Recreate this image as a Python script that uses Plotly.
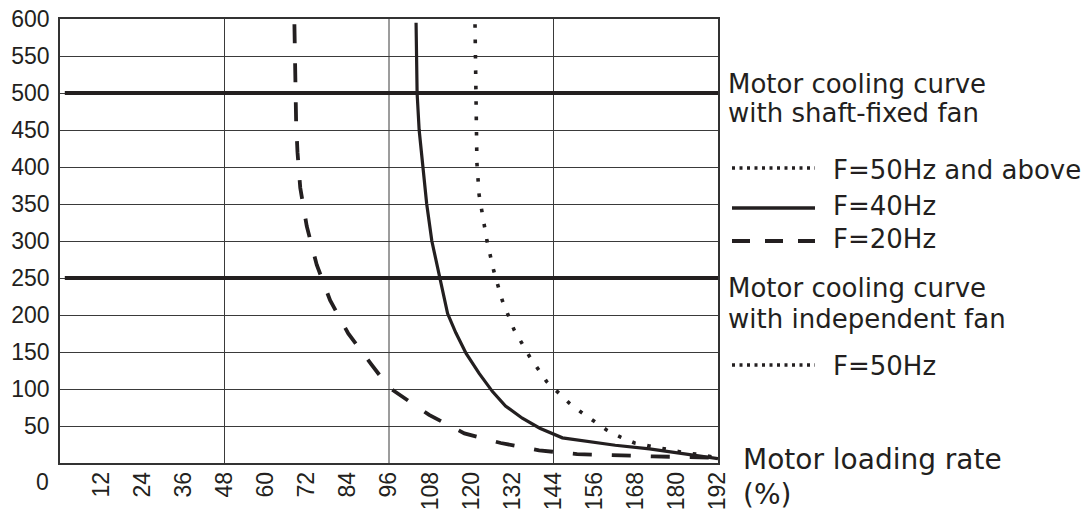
import plotly.graph_objects as go

# ---------------- data ----------------
x_ticks = [12, 24, 36, 48, 60, 72, 84, 96, 108, 120, 132, 144, 156, 168, 180, 192]
y_ticks = [50, 100, 150, 200, 250, 300, 350, 400, 450, 500, 550, 600]
x_grid = [48, 96, 144]

# F=50Hz and above (dotted)
f50_x = [121.1, 121.2, 121.4, 121.65, 122.3, 123.0, 124.6, 126.6, 129.1, 132.5, 137.0,
         142.0, 145.3, 148.6, 152.1, 155.8, 159.5, 163.6, 167.7, 172.0, 176.2, 181.0, 185.5, 192.0]
f50_y = [593, 550, 490, 406, 362, 341, 300, 259, 219, 180, 144,
         110, 94.7, 81, 68.6, 56, 44.6, 35, 27, 23, 19, 15, 12, 7]

# F=40Hz (solid)
f40_x = [103.9, 104.0, 104.2, 104.8, 105.8, 107.0, 108.5, 110.7, 113.1, 115.5, 118.5,
         122.3, 126.2, 130.0, 134.9, 140.0, 146.6, 162.0, 172.0, 192.0]
f40_y = [595, 525, 500, 450, 400, 350, 300, 252, 202, 176, 148,
         121, 96.5, 77, 60.5, 47, 34, 24, 19, 6]

# F=20Hz (dashed)
f20_x = [68.4, 68.6, 68.9, 69.3, 70.1, 72.0, 74.9, 78.8, 84.1, 90.9, 96.0,
         107.7, 118.0, 128.6, 139.8, 150.9, 162.0, 173.0, 182.0, 192.0]
f20_y = [593, 520, 460, 420, 372, 320, 268, 220, 175, 133, 102,
         65, 40, 27, 17, 12, 10, 9, 8, 7]

# cooling-curve reference levels (thick horizontal lines)
cooling_levels = [500, 250]
cooling_x = [1.4, 192]

group_titles = [["Motor cooling curve", "with shaft-fixed fan"],
                ["Motor cooling curve", "with independent fan"]]
legend_labels = ["F=50Hz and above", "F=40Hz", "F=20Hz", "F=50Hz"]
axis_title = ["Motor loading rate", "(%)"]

# ---------------- layout constants ----------------
W_FIG, H_FIG = 1092, 511
L, T, W, H = 60, 19, 658, 444   # plot area in pixels
INK = "#231f20"
TICK_FONT = "Liberation Sans, Arial, sans-serif"
TEXT_FONT = "DejaVu Sans, sans-serif"


def px2x(px):
    return (px - L) / W


def py2y(py):
    return (T + H - py) / H


fig = go.Figure()

for lvl in cooling_levels:
    fig.add_trace(go.Scatter(x=cooling_x, y=[lvl, lvl], mode="lines",
                             line=dict(color=INK, width=4), showlegend=False,
                             hoverinfo="skip"))

fig.add_trace(go.Scatter(x=f20_x, y=f20_y, mode="lines", name="F=20Hz",
                         line=dict(color=INK, width=3.8, dash="19px,20px"),
                         showlegend=False))
fig.add_trace(go.Scatter(x=f40_x, y=f40_y, mode="lines", name="F=40Hz",
                         line=dict(color=INK, width=3.2), showlegend=False))
fig.add_trace(go.Scatter(x=f50_x, y=f50_y, mode="lines", name="F=50Hz and above",
                         line=dict(color=INK, width=3.6, dash="3.6px,11.8px"),
                         showlegend=False))

shapes = []
for gx in x_grid:
    shapes.append(dict(type="line", xref="x", yref="paper", x0=gx, x1=gx, y0=0, y1=1,
                       line=dict(color="#3a3a3a", width=1), layer="below"))

# legend samples
sample_x0, sample_x1 = px2x(732), px2x(815)
samples = [
    (168, dict(color=INK, width=3.4, dash="3px,4.5px")),
    (208, dict(color=INK, width=3.6)),
    (241, dict(color=INK, width=4, dash="18px,15px")),
    (365, dict(color=INK, width=3.4, dash="3px,4.5px")),
]
for py, ln in samples:
    shapes.append(dict(type="line", xref="paper", yref="paper",
                       x0=sample_x0, x1=sample_x1, y0=py2y(py), y1=py2y(py), line=ln))

annotations = []


def add_text(text, px, py, size, font=TEXT_FONT):
    annotations.append(dict(text=text, xref="paper", yref="paper", x=px2x(px), y=py2y(py),
                            xanchor="left", yanchor="middle", showarrow=False,
                            font=dict(family=font, size=size, color=INK)))


add_text(group_titles[0][0], 726, 84, 26)
add_text(group_titles[0][1], 726, 113, 26)
add_text(legend_labels[0], 831, 170, 26)
add_text(legend_labels[1], 831, 206.5, 26)
add_text(legend_labels[2], 831, 239, 26)
add_text(group_titles[1][0], 726, 287.5, 26)
add_text(group_titles[1][1], 726, 319, 26)
add_text(legend_labels[3], 831, 366, 26)
add_text(axis_title[0], 741, 459.5, 28)
add_text(axis_title[1], 741, 494, 28)

# the "0" label sits below-left of the origin
annotations.append(dict(text="0", xref="x", yref="y", x=0, y=0, xshift=-18, yshift=-19,
                        showarrow=False, xanchor="center", yanchor="middle",
                        font=dict(family=TICK_FONT, size=23, color=INK)))

fig.update_layout(
    width=W_FIG, height=H_FIG,
    margin=dict(l=L, r=W_FIG - L - W, t=T, b=H_FIG - T - H, autoexpand=False),
    paper_bgcolor="white", plot_bgcolor="white",
    showlegend=False,
    shapes=shapes, annotations=annotations,
    xaxis=dict(range=[0, 192], tickvals=x_ticks, ticktext=[str(v) for v in x_ticks],
               tickangle=-90, showgrid=False, zeroline=False,
               showline=True, mirror=True, linecolor="#333", linewidth=1.5,
               ticks="", ticklabelstandoff=-2, ticklabeloverflow="allow", automargin=False,
               tickfont=dict(family=TICK_FONT, size=23, color=INK)),
    yaxis=dict(range=[0, 600], tickvals=y_ticks, ticktext=[str(v) for v in y_ticks],
               showgrid=True, gridcolor="#3a3a3a", gridwidth=1, zeroline=False,
               showline=True, mirror=True, linecolor="#333", linewidth=1.5,
               ticks="", ticklabelstandoff=4, ticklabeloverflow="allow", automargin=False,
               tickfont=dict(family=TICK_FONT, size=23, color=INK)),
)

# remove the default page margin so the figure fills the window exactly
fig.write_html("out.html",
               config={"displayModeBar": False},
               post_script="document.body.style.margin='0px';document.body.style.overflow='hidden';")
